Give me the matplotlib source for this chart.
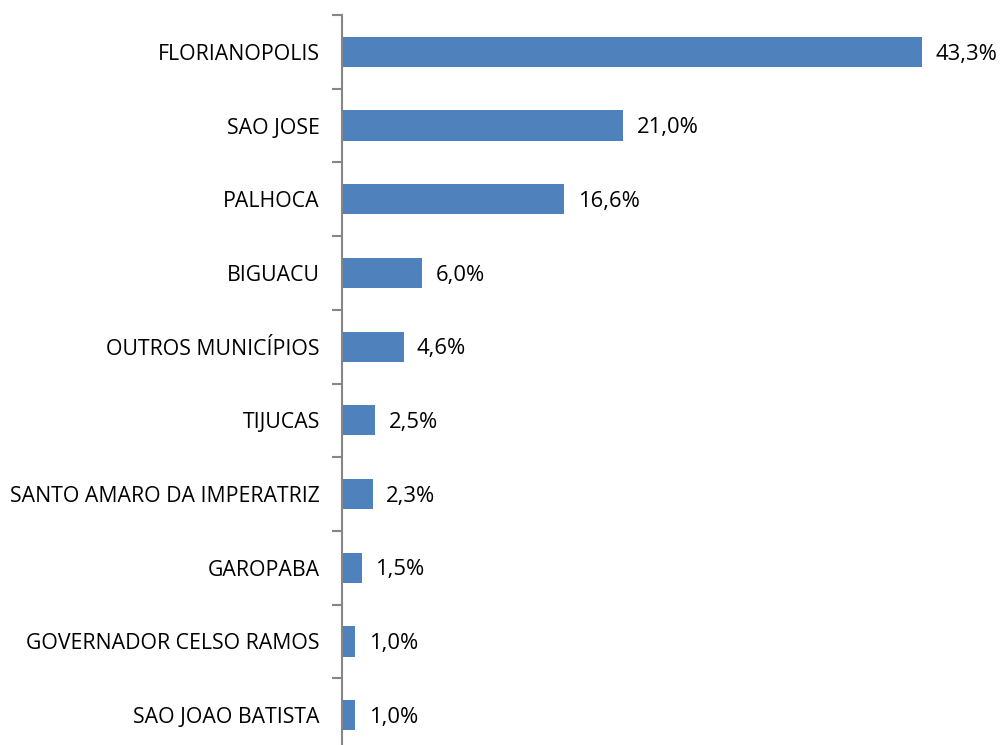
import matplotlib
matplotlib.use("Agg")
import matplotlib.pyplot as plt

# data
cities = ["FLORIANOPOLIS", "SAO JOSE", "PALHOCA", "BIGUACU", "OUTROS MUNICÍPIOS",
          "TIJUCAS", "SANTO AMARO DA IMPERATRIZ", "GAROPABA",
          "GOVERNADOR CELSO RAMOS", "SAO JOAO BATISTA"]
shares = [43.3, 21.0, 16.6, 6.0, 4.6, 2.5, 2.3, 1.5, 1.0, 1.0]

plt.rcParams['font.family'] = ['Open Sans', 'DejaVu Sans']

fig = plt.figure(figsize=(10.01, 7.45), dpi=100)
ax = fig.add_axes([342 / 1001, -7 / 745, 659 / 1001, 737 / 745])

pos = list(range(len(cities)))
ax.barh(pos, shares, height=0.41, color='#4F81BD')
ax.set_ylim(len(cities) - 0.5, -0.5)
ax.set_xlim(0, 659 / 13.39)

for p, v in zip(pos, shares):
    ax.text(v + 1.0, p + 0.03, ("%.1f%%" % v).replace('.', ','), va='center', ha='left',
            fontsize=15.8, color='black')

# ticks between categories
ax.set_yticks([p - 0.5 for p in pos] + [len(cities) - 0.5])
ax.set_yticklabels([])
ax.set_yticks(pos, minor=True)
ax.set_yticklabels(cities, minor=True, fontsize=15.3)
ax.tick_params(axis='y', which='major', length=7, width=1.5, color='#868686')
ax.tick_params(axis='y', which='minor', length=0, pad=16)
ax.set_xticks([])

for s in ['top', 'right', 'bottom']:
    ax.spines[s].set_visible(False)
ax.spines['left'].set_color('#868686')
ax.spines['left'].set_linewidth(1.5)

fig.savefig("out.png", dpi=100)
